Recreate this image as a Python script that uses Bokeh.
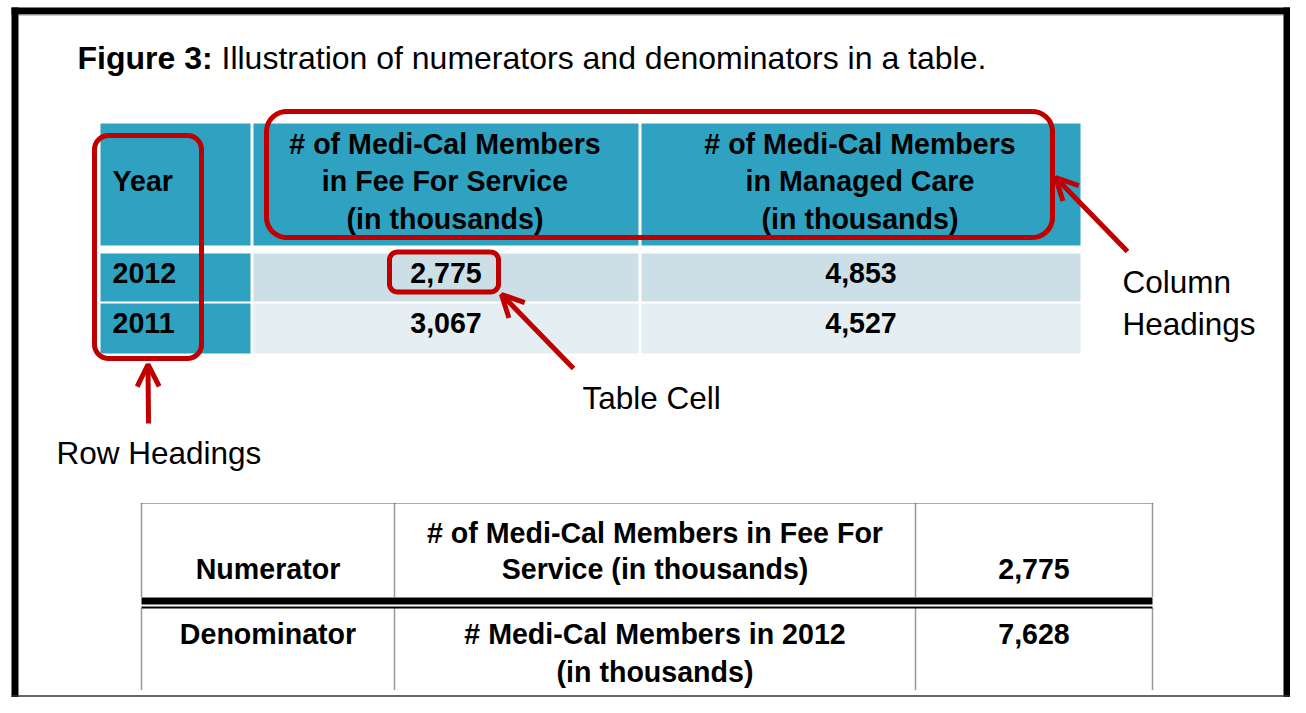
import numpy as np
from bokeh.plotting import figure
from bokeh.models import Range1d, Arrow, OpenHead
from bokeh.core.properties import value
from bokeh.embed import file_html
from bokeh.resources import INLINE

# ---------------- data ----------------
title_bold = "Figure 3:"
title_rest = "Illustration of numerators and denominators in a table."
row_header_title = "Year"
col_headers = [
    ["# of Medi-Cal Members", "in Fee For Service", "(in thousands)"],
    ["# of Medi-Cal Members", "in Managed Care", "(in thousands)"],
]
years = ["2012", "2011"]
fee_for_service = [2775, 3067]
managed_care = [4853, 4527]
label_row = ["Row Headings"]
label_cell = ["Table Cell"]
label_col = ["Column", "Headings"]
fraction_labels = ["Numerator", "Denominator"]
fraction_desc = [
    ["# of Medi-Cal Members in Fee For", "Service (in thousands)"],
    ["# Medi-Cal Members in 2012", "(in thousands)"],
]
fraction_values = [2775, 7628]

# ---------------- styles / layout ----------------
FONT = value("Liberation Sans")
TEAL = "#2EA2C0"
ROW_FILLS = ["#CCDFE6", "#E5EEF2"]
RED = "#C00000"
W, H = 1290, 697
TS = 28.6   # table text size
LS = 31.5   # callout label size

p = figure(width=W, height=H, x_range=Range1d(0, W), y_range=Range1d(H, 0),
           output_backend="svg", toolbar_location=None, min_border=0,
           x_axis_type=None, y_axis_type=None, outline_line_color=None,
           background_fill_color="white", border_fill_color="white")
p.grid.visible = False


def txt(xs, ys, texts, size, bold=True, align="center", color="black"):
    p.text(x=xs, y=ys, text=texts, text_font=FONT, text_font_size=f"{size}px",
           text_font_style="bold" if bold else "normal", text_align=align,
           text_baseline="middle", text_color=color)


# frame
p.quad(left=[11], right=[18], top=[7], bottom=[H], fill_color="black", line_color=None)
p.quad(left=[11], right=[W], top=[7], bottom=[14], fill_color="black", line_color=None)
p.segment(x0=[18], y0=[14.5], x1=[W - 7], y1=[14.5], line_color="#999999", line_width=1)
p.quad(left=[W - 7], right=[W], top=[7], bottom=[H], fill_color="black", line_color=None)
p.segment(x0=[11], y0=[H - 1.5], x1=[W], y1=[H - 1.5], line_color="#333333", line_width=1.5)

# title
txt([77], [57], [title_bold], 32, bold=True, align="left")
txt([221], [57], [title_rest], 32, bold=False, align="left")

# ---------------- top table ----------------
COL_EDGES = [(100, 250), (253, 638), (641, 1080)]
ROW_EDGES = [(123, 245), (253, 301), (303, 353)]
L, R, T, B, C = [], [], [], [], []
for ri, (t, b) in enumerate(ROW_EDGES):
    for ci, (l, r) in enumerate(COL_EDGES):
        L.append(l); R.append(r); T.append(t); B.append(b)
        C.append(TEAL if (ri == 0 or ci == 0) else ROW_FILLS[ri - 1])
p.quad(left=L, right=R, top=T, bottom=B, fill_color=C, line_color=None)

col_centers = [(l + r) / 2 for l, r in COL_EDGES]
header_lines_y = [143, 180, 218]
txt([112], [header_lines_y[1]], [row_header_title], TS, align="left")
for ci, lines in enumerate(col_headers):
    txt([col_centers[ci + 1] - 1] * len(lines), header_lines_y[:len(lines)], lines, TS)
row_y = [272, 322]
txt([112] * len(years), row_y, years, TS, align="left")
txt([col_centers[1]] * len(fee_for_service), row_y, [f"{v:,}" for v in fee_for_service], TS)
txt([col_centers[2]] * len(managed_care), row_y, [f"{v:,}" for v in managed_care], TS)


# red rounded callout boxes
def rounded(x0, y0, x1, y1, r, n=10):
    xs, ys = [], []
    corners = [(x1 - r, y0 + r, -np.pi / 2, 0), (x1 - r, y1 - r, 0, np.pi / 2),
               (x0 + r, y1 - r, np.pi / 2, np.pi), (x0 + r, y0 + r, np.pi, 1.5 * np.pi)]
    for cx, cy, a0, a1 in corners:
        a = np.linspace(a0, a1, n)
        xs.extend(cx + r * np.cos(a)); ys.extend(cy + r * np.sin(a))
    xs.append(xs[0]); ys.append(ys[0])
    return xs, ys


BOXES = [(94, 135, 201, 358, 14), (266, 111, 1052, 237, 20), (389, 251.5, 498, 291.5, 8)]
bx, by = zip(*[rounded(*b) for b in BOXES])
p.multi_line(xs=list(bx), ys=list(by), line_color=RED, line_width=5, line_join="round")

ARROWS = [(148, 423, 147.5, 364), (573, 368, 501, 294), (1127, 251, 1055, 177)]
for xs_, ys_, xe_, ye_ in ARROWS:
    p.add_layout(Arrow(end=OpenHead(size=22, line_color=RED, line_width=5),
                       x_start=xs_, y_start=ys_, x_end=xe_, y_end=ye_,
                       line_color=RED, line_width=5))

txt([56], [452], label_row, LS, bold=False, align="left")
txt([582], [397], label_cell, LS, bold=False, align="left")
txt([1122] * 2, [281, 323], label_col, LS, bold=False, align="left")

# ---------------- bottom table ----------------
BX = [141, 394, 915, 1152]
BT_TOP, BT_SPLIT, BT_THIN, BT_BOT = 503, 600.5, 607, 689
p.segment(x0=[BX[0]], y0=[BT_TOP], x1=[BX[-1]], y1=[BT_TOP], line_color="#555555",
          line_width=1, line_dash="1 1")
p.segment(x0=BX, y0=[BT_TOP] * 4, x1=BX, y1=[BT_SPLIT - 3.5] * 4, line_color="#333333",
          line_width=1.5, line_dash="1 1")
p.segment(x0=BX, y0=[BT_THIN + 1] * 4, x1=BX, y1=[BT_BOT] * 4, line_color="#333333",
          line_width=1.5, line_dash="1 1")
p.segment(x0=[BX[0]], y0=[BT_SPLIT], x1=[BX[-1]], y1=[BT_SPLIT], line_color="black", line_width=7)
p.segment(x0=[BX[0]], y0=[BT_THIN], x1=[BX[-1]], y1=[BT_THIN], line_color="black", line_width=2)

bcent = [(BX[i] + BX[i + 1]) / 2 for i in range(3)]
row_lines = [[532, 568], [633, 671]]
single_line = [568, 633]
txt([bcent[0]] * 2, single_line, fraction_labels, TS)
txt([bcent[2]] * 2, single_line, [f"{v:,}" for v in fraction_values], TS)
for ri, lines in enumerate(fraction_desc):
    txt([bcent[1]] * len(lines), row_lines[ri], lines, TS)

open("out.html", "w").write(file_html(p, INLINE))
